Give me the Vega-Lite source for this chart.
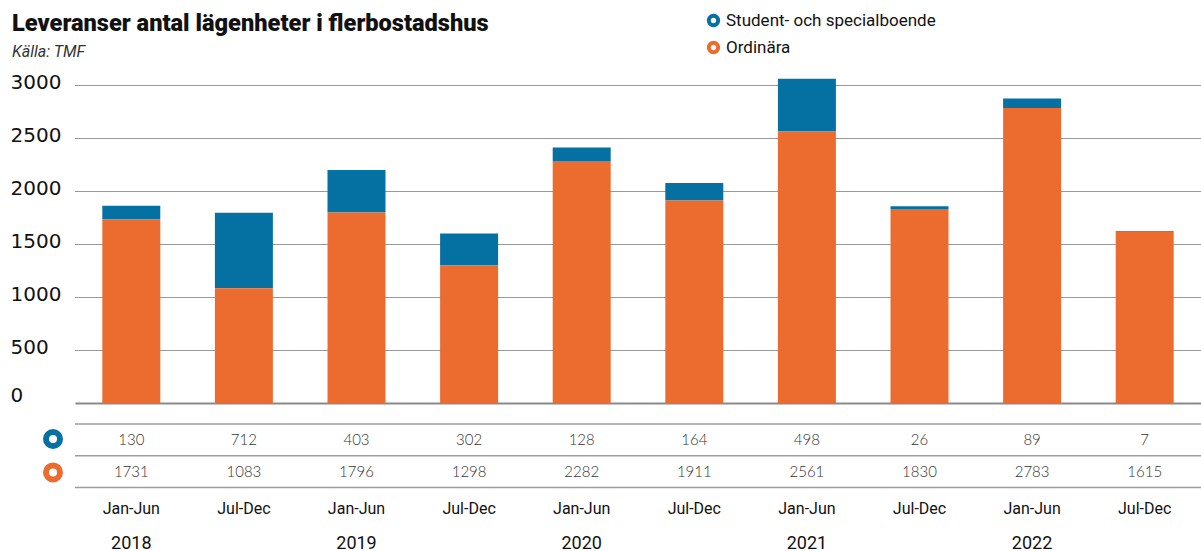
{
  "$schema": "https://vega.github.io/schema/vega-lite/v6.json",
  "background": "white",
  "padding": {"left": 10, "top": 12, "right": 0, "bottom": 0},
  "bounds": "flush",
  "spacing": 21,
  "config": {"view": {"stroke": null}},
  "datasets": {
    "lev": [
      {"year": "2018", "half": "Jan-Jun", "key": "2018 Jan-Jun", "serie": "Student- och specialboende", "value": 130},
      {"year": "2018", "half": "Jan-Jun", "key": "2018 Jan-Jun", "serie": "Ordinära", "value": 1731},
      {"year": "2018", "half": "Jul-Dec", "key": "2018 Jul-Dec", "serie": "Student- och specialboende", "value": 712},
      {"year": "2018", "half": "Jul-Dec", "key": "2018 Jul-Dec", "serie": "Ordinära", "value": 1083},
      {"year": "2019", "half": "Jan-Jun", "key": "2019 Jan-Jun", "serie": "Student- och specialboende", "value": 403},
      {"year": "2019", "half": "Jan-Jun", "key": "2019 Jan-Jun", "serie": "Ordinära", "value": 1796},
      {"year": "2019", "half": "Jul-Dec", "key": "2019 Jul-Dec", "serie": "Student- och specialboende", "value": 302},
      {"year": "2019", "half": "Jul-Dec", "key": "2019 Jul-Dec", "serie": "Ordinära", "value": 1298},
      {"year": "2020", "half": "Jan-Jun", "key": "2020 Jan-Jun", "serie": "Student- och specialboende", "value": 128},
      {"year": "2020", "half": "Jan-Jun", "key": "2020 Jan-Jun", "serie": "Ordinära", "value": 2282},
      {"year": "2020", "half": "Jul-Dec", "key": "2020 Jul-Dec", "serie": "Student- och specialboende", "value": 164},
      {"year": "2020", "half": "Jul-Dec", "key": "2020 Jul-Dec", "serie": "Ordinära", "value": 1911},
      {"year": "2021", "half": "Jan-Jun", "key": "2021 Jan-Jun", "serie": "Student- och specialboende", "value": 498},
      {"year": "2021", "half": "Jan-Jun", "key": "2021 Jan-Jun", "serie": "Ordinära", "value": 2561},
      {"year": "2021", "half": "Jul-Dec", "key": "2021 Jul-Dec", "serie": "Student- och specialboende", "value": 26},
      {"year": "2021", "half": "Jul-Dec", "key": "2021 Jul-Dec", "serie": "Ordinära", "value": 1830},
      {"year": "2022", "half": "Jan-Jun", "key": "2022 Jan-Jun", "serie": "Student- och specialboende", "value": 89},
      {"year": "2022", "half": "Jan-Jun", "key": "2022 Jan-Jun", "serie": "Ordinära", "value": 2783},
      {"year": "2022", "half": "Jul-Dec", "key": "2022 Jul-Dec", "serie": "Student- och specialboende", "value": 7},
      {"year": "2022", "half": "Jul-Dec", "key": "2022 Jul-Dec", "serie": "Ordinära", "value": 1615}
    ]
  },
  "data": {"name": "lev"},
  "resolve": {"legend": {"color": "independent", "stroke": "independent"}},
  "vconcat": [
    {
      "width": 1126,
      "height": 318,
      "title": {
        "text": "Leveranser antal lägenheter i flerbostadshus",
        "subtitle": "Källa: TMF",
        "anchor": "start",
        "frame": "bounds",
        "font": "Roboto",
        "fontSize": 23.6,
        "fontWeight": 900,
        "color": "#111",
        "subtitleFont": "Roboto",
        "subtitleFontSize": 16,
        "subtitleFontStyle": "italic",
        "subtitleColor": "#333",
        "subtitlePadding": 8,
        "offset": 12,
        "dx": 2
      },
      "mark": {"type": "bar", "width": {"band": 0.515}},
      "encoding": {
        "x": {
          "field": "key", "type": "nominal", "sort": null,
          "scale": {"domain": ["2018 Jan-Jun", "2018 Jul-Dec", "2019 Jan-Jun", "2019 Jul-Dec", "2020 Jan-Jun", "2020 Jul-Dec", "2021 Jan-Jun", "2021 Jul-Dec", "2022 Jan-Jun", "2022 Jul-Dec"], "paddingInner": 0, "paddingOuter": 0},
          "axis": null
        },
        "y": {
          "field": "value", "type": "quantitative", "stack": "zero",
          "scale": {"domain": [0, 3000], "nice": false},
          "axis": {
            "title": null,
            "values": [0, 500, 1000, 1500, 2000, 2500, 3000],
            "format": "d",
            "domain": false,
            "ticks": false,
            "tickSize": 0,
            "labelAlign": "left",
            "labelPadding": 65,
            "labelFont": "DejaVu Sans",
            "labelFontSize": 20,
            "labelColor": "#111",
            "labelBaseline": "middle",
            "labelOffset": {"condition": {"test": "datum.value === 0", "value": -8}, "value": -3},
            "gridColor": {"condition": {"test": "datum.value === 0", "value": "#8a8a8a"}, "value": "#333333"},
            "gridDash": {"condition": {"test": "datum.value === 0", "value": []}, "value": [1, 1]},
            "gridWidth": {"condition": {"test": "datum.value === 0", "value": 2}, "value": 1}
          }
        },
        "color": {
          "field": "serie", "type": "nominal",
          "scale": {"domain": ["Student- och specialboende", "Ordinära"], "range": ["#0570a2", "#ec6c30"]},
          "legend": null
        },
        "order": {"field": "serie", "sort": "ascending"}
      }
    },
    {
      "width": 1126,
      "height": 127,
      "layer": [
        {
          "transform": [{"aggregate": [{"op": "count", "as": "n"}], "groupby": ["serie"]}],
          "mark": {"type": "rule", "color": "#9d9d9d", "strokeWidth": 1.5},
          "encoding": {
            "y": {"field": "serie", "type": "nominal", "bandPosition": 0,
              "scale": {"domain": ["Student- och specialboende", "Ordinära", "Period", "År"], "paddingInner": 0, "paddingOuter": 0},
              "axis": null}
          }
        },
        {
          "transform": [{"filter": "datum.serie === 'Ordinära'"}, {"aggregate": [{"op": "count", "as": "n"}], "groupby": ["serie"]}],
          "mark": {"type": "rule", "color": "#9d9d9d", "strokeWidth": 1.5},
          "encoding": {
            "y": {"field": "serie", "type": "nominal", "bandPosition": 1, "axis": null}
          }
        },
        {
          "mark": {"type": "text", "font": "Lato", "fontWeight": 300, "fontSize": 15, "color": "#333", "baseline": "middle"},
          "encoding": {
            "x": {"field": "key", "type": "nominal", "sort": null,
              "scale": {"domain": ["2018 Jan-Jun", "2018 Jul-Dec", "2019 Jan-Jun", "2019 Jul-Dec", "2020 Jan-Jun", "2020 Jul-Dec", "2021 Jan-Jun", "2021 Jul-Dec", "2022 Jan-Jun", "2022 Jul-Dec"], "paddingInner": 0, "paddingOuter": 0},
              "axis": null},
            "y": {"field": "serie", "type": "nominal", "axis": null},
            "text": {"field": "value", "type": "quantitative", "format": "d"}
          }
        },
        {
          "transform": [{"filter": "datum.serie === 'Ordinära'"}],
          "mark": {"type": "text", "font": "Roboto", "fontSize": 16, "color": "#111", "baseline": "middle", "dy": 6},
          "encoding": {
            "x": {"field": "key", "type": "nominal", "sort": null, "axis": null},
            "y": {"datum": "Period", "type": "nominal", "axis": null},
            "text": {"field": "half", "type": "nominal"}
          }
        },
        {
          "transform": [{"filter": "datum.serie === 'Ordinära' && datum.half === 'Jan-Jun'"}],
          "mark": {"type": "text", "font": "Roboto", "fontSize": 18, "color": "#111", "baseline": "middle", "dy": 9},
          "encoding": {
            "x": {"field": "key", "type": "nominal", "sort": null, "bandPosition": 1, "axis": null},
            "y": {"datum": "År", "type": "nominal", "axis": null},
            "text": {"field": "year", "type": "nominal"}
          }
        },
        {
          "transform": [{"filter": "false"}],
          "mark": {"type": "point", "filled": false, "opacity": 1},
          "encoding": {
            "x": {"field": "key", "type": "nominal", "sort": null, "axis": null},
            "y": {"field": "serie", "type": "nominal", "axis": null},
            "color": {
              "field": "serie", "type": "nominal",
              "scale": {"domain": ["Student- och specialboende", "Ordinära"], "range": ["#0570a2", "#ec6c30"]},
              "legend": {
                "orient": "none", "legendX": 630, "legendY": -412, "title": null,
                "padding": 0, "symbolType": "circle", "symbolSize": 87, "symbolStrokeWidth": 4,
                "symbolFillColor": "white", "symbolOpacity": 1,
                "labelFont": "Roboto", "labelFontSize": 17, "labelColor": "#111", "labelLimit": 0,
                "labelOffset": 4, "rowPadding": 0
              }
            }
          }
        },
        {
          "transform": [{"filter": "false"}],
          "mark": {"type": "point", "filled": false, "opacity": 1},
          "encoding": {
            "x": {"field": "key", "type": "nominal", "sort": null, "axis": null},
            "y": {"field": "serie", "type": "nominal", "axis": null},
            "stroke": {
              "field": "serie", "type": "nominal",
              "scale": {"domain": ["Student- och specialboende", "Ordinära"], "range": ["#0570a2", "#ec6c30"]},
              "legend": {
                "orient": "left", "offset": -2, "title": null,
                "padding": 5, "symbolType": "circle", "symbolSize": 196, "symbolStrokeWidth": 6,
                "symbolFillColor": "white", "symbolOpacity": 1,
                "labelExpr": "''", "labelOffset": 0, "labelFontSize": 10, "rowPadding": -4.6
              }
            }
          }
        }
      ]
    }
  ]
}
